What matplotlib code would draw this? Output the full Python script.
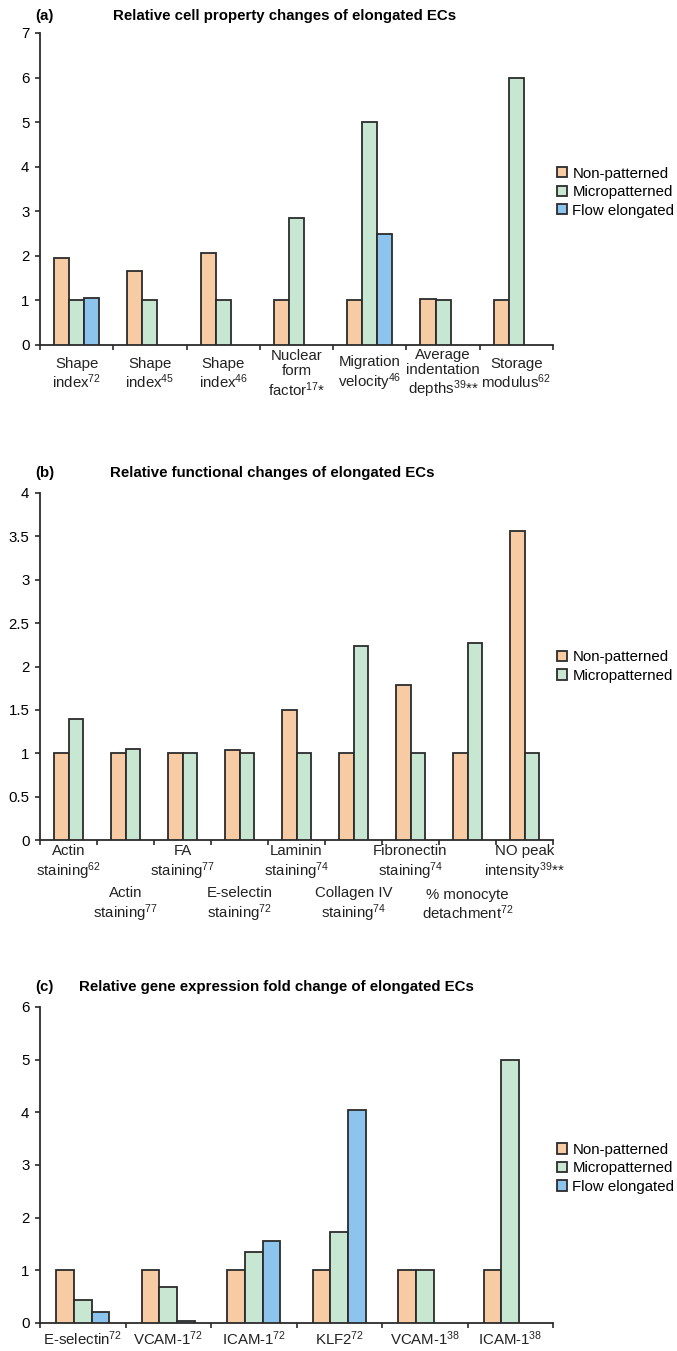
import numpy as np
import matplotlib
matplotlib.use("Agg")
import matplotlib.pyplot as plt
from matplotlib.transforms import offset_copy

FONT = "Liberation Sans"
plt.rcParams["font.family"] = [FONT, "DejaVu Sans"]
plt.rcParams["mathtext.fontset"] = "custom"
plt.rcParams["mathtext.rm"] = FONT
plt.rcParams["mathtext.it"] = FONT + ":italic"
plt.rcParams["mathtext.bf"] = FONT + ":bold"
plt.rcParams["mathtext.default"] = "regular"

FS = 10.8
nan = np.nan

series = ["Non-patterned", "Micropatterned", "Flow elongated"]
colors = ["#F7CCA4", "#C8E7D2", "#8CC4EE"]
EDGE = "#2b2b2b"

# ---- panel (a) ----
a_title = "Relative cell property changes of elongated ECs"
a_labels = ["Shape\nindex$^{72}$", "Shape\nindex$^{45}$", "Shape\nindex$^{46}$",
            "Nuclear\nform\nfactor$^{17}$*", "Migration\nvelocity$^{46}$",
            "Average\nindentation\ndepths$^{39}$**", "Storage\nmodulus$^{62}$"]
a_non = [1.96, 1.66, 2.07, 1.0, 1.0, 1.03, 1.0]
a_micro = [1.0, 1.0, 1.0, 2.84, 5.0, 1.0, 6.0]
a_flow = [1.06, nan, nan, nan, 2.5, nan, nan]
a_yticks = [0, 1, 2, 3, 4, 5, 6, 7]

# ---- panel (b) ----
b_title = "Relative functional changes of elongated ECs"
b_labels = ["Actin\nstaining$^{62}$", "Actin\nstaining$^{77}$", "FA\nstaining$^{77}$",
            "E-selectin\nstaining$^{72}$", "Laminin\nstaining$^{74}$",
            "Collagen IV\nstaining$^{74}$", "Fibronectin\nstaining$^{74}$",
            "% monocyte\ndetachment$^{72}$", "NO peak\nintensity$^{39}$**"]
b_non = [1.0, 1.0, 1.0, 1.04, 1.5, 1.0, 1.79, 1.0, 3.56]
b_micro = [1.39, 1.05, 1.0, 1.0, 1.0, 2.24, 1.0, 2.27, 1.0]
b_yticks = [0, 0.5, 1, 1.5, 2, 2.5, 3, 3.5, 4]

# ---- panel (c) ----
c_title = "Relative gene expression fold change of elongated ECs"
c_labels = ["E-selectin$^{72}$", "VCAM-1$^{72}$", "ICAM-1$^{72}$", "KLF2$^{72}$",
            "VCAM-1$^{38}$", "ICAM-1$^{38}$"]
c_non = [1.0, 1.0, 1.0, 1.0, 1.0, 1.0]
c_micro = [0.43, 0.69, 1.34, 1.72, 1.0, 5.0]
c_flow = [0.21, 0.04, 1.55, 4.05, nan, nan]
c_yticks = [0, 1, 2, 3, 4, 5, 6]

W, H = 677, 1351
fig = plt.figure(figsize=(W / 100, H / 100), dpi=100)


def px_axes(x0, x1, ytop, ybot):
    return fig.add_axes([x0 / W, 1 - ybot / H, (x1 - x0) / W, (ybot - ytop) / H])


def draw_panel(ax, data, labels, yticks, width, label_rows, legend_y):
    n = len(labels)
    k = len(data)
    x = np.arange(n)
    offsets = (np.arange(k) - (k - 1) / 2) * width
    handles = []
    for i, vals in enumerate(data):
        v = np.array(vals, dtype=float)
        m = ~np.isnan(v)
        b = ax.bar(x[m] + offsets[i], v[m], width=width, color=colors[i],
                   edgecolor=EDGE, linewidth=1.3, zorder=3, label=series[i])
        handles.append(b)
    ax.set_xlim(-0.5, n - 0.5)
    ax.set_ylim(yticks[0], yticks[-1])
    ax.set_yticks(yticks)
    ax.set_yticklabels([f"{t:g}" for t in yticks], fontsize=FS)
    ax.set_xticks(np.arange(n + 1) - 0.5)
    ax.set_xticklabels([])
    ax.tick_params(axis="both", direction="out", length=3.6, width=1.2, color=EDGE)
    ax.tick_params(axis="y", pad=4.0)
    for s in ("top", "right"):
        ax.spines[s].set_visible(False)
    for s in ("left", "bottom"):
        ax.spines[s].set_linewidth(1.3)
        ax.spines[s].set_color(EDGE)
    base = ax.get_xaxis_transform()
    for i, lab in enumerate(labels):
        dy = label_rows[i]
        tr = offset_copy(base, fig=fig, x=0, y=-dy, units="dots")
        ax.text(i, 0, lab, transform=tr, ha="center", va="center",
                fontsize=FS, linespacing=1.1, multialignment="center",
                color="#222222")
    ax.legend(handles=handles, loc="center left", bbox_to_anchor=(1.008, legend_y),
              frameon=False, fontsize=FS, borderpad=0, borderaxespad=0,
              handlelength=0.67, handleheight=0.67, handletextpad=0.35,
              labelspacing=0.3)


# panel a
axa = px_axes(40, 553, 33, 345)
draw_panel(axa, [a_non, a_micro, a_flow], a_labels, a_yticks, 0.206,
           [29] * len(a_labels), 0.49)
fig.text(35 / W, 1 - 16 / H, "(a)", fontsize=FS, fontweight="bold", va="center")
fig.text(113 / W, 1 - 16 / H, a_title, fontsize=FS, fontweight="bold", va="center")

# panel b
axb = px_axes(40, 553, 493, 840)
draw_panel(axb, [b_non, b_micro], b_labels, b_yticks, 0.263,
           [23 if i % 2 == 0 else 65 for i in range(len(b_labels))], 0.5)
fig.text(35 / W, 1 - 473 / H, "(b)", fontsize=FS, fontweight="bold", va="center")
fig.text(110 / W, 1 - 473 / H, b_title, fontsize=FS, fontweight="bold", va="center")

# panel c
axc = px_axes(40, 553, 1007, 1323)
draw_panel(axc, [c_non, c_micro, c_flow], c_labels, c_yticks, 0.207,
           [16] * len(c_labels), 0.49)
fig.text(35 / W, 1 - 987 / H, "(c)", fontsize=FS, fontweight="bold", va="center")
fig.text(79 / W, 1 - 987 / H, c_title, fontsize=FS, fontweight="bold", va="center")

fig.savefig("out.png", dpi=100)
